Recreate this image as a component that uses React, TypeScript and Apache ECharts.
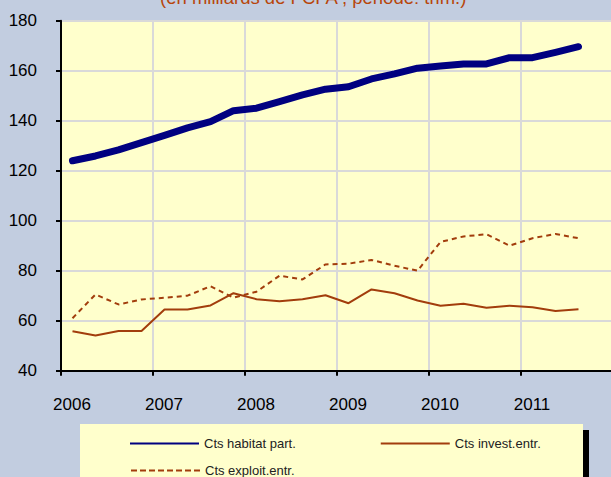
import React, { useEffect, useRef } from "react";
import * as echarts from "echarts";

const TITLE = "(en milliards de FCFA , période: trim.)";
const YEAR_LABELS = ["2006", "2007", "2008", "2009", "2010", "2011"];
const SERIES_NAMES = ["Cts habitat part.", "Cts invest.entr.", "Cts exploit.entr."];
// quarterly values, 2006 Q1 .. 2011 Q3
const habitat = [124, 125.9, 128.3, 131.2, 134.1, 137.1, 139.6, 144, 145, 147.6, 150.3, 152.6, 153.6, 156.7, 158.7, 161, 161.9, 162.7, 162.7, 165.2, 165.2, 167.3, 169.6];
const invest = [55.8, 54.1, 55.9, 55.9, 64.5, 64.5, 66.1, 71, 68.6, 67.8, 68.6, 70.2, 67, 72.5, 71, 68.1, 66, 66.8, 65.2, 66, 65.4, 63.9, 64.6];
const exploit = [61, 70.5, 66.5, 68.5, 69.2, 70, 73.8, 69.2, 71.6, 78, 76.5, 82.5, 82.8, 84.3, 82, 80, 91.5, 93.7, 94.6, 90, 93, 94.7, 93];
const X_TICKS = [0, 4, 8, 12, 16, 20];

const BROWN = "#A23D0C";
const NAVY = "#000080";

const toPoints = (arr: number[]) => arr.map((v, i) => [i + 0.5, v]);

export default function App() {
  const ref = useRef<HTMLDivElement>(null);
  useEffect(() => {
    if (!ref.current) return;
    const chart = echarts.init(ref.current, undefined, { renderer: "svg" });
    const font = "Liberation Sans, Arial, sans-serif";
    chart.setOption({
      animation: false,
      backgroundColor: "#C2CDE0",
      textStyle: { fontFamily: font },
      grid: {
        left: 61,
        top: 20.7,
        right: -2,
        bottom: 106.3,
        show: true,
        backgroundColor: "#FFFFCC",
        borderWidth: 0,
        containLabel: false,
        outerBoundsMode: "none",
      },
      xAxis: {
        type: "value",
        min: 0,
        max: 24,
        interval: 4,
        axisLine: { show: true, lineStyle: { color: "#000", width: 2 } },
        axisTick: { show: true, length: 5, customValues: X_TICKS, lineStyle: { color: "#000", width: 2 } },
        splitLine: { show: true, lineStyle: { color: "#D9D9D9", width: 2 } },
        axisLabel: {
          color: "#000",
          fontSize: 17,
          margin: 25,
          padding: [0, 0, 0, 22],
          customValues: X_TICKS,
          formatter: (v: number) => YEAR_LABELS[Math.round(v / 4)] ?? "",
        },
      },
      yAxis: {
        type: "value",
        min: 40,
        max: 180,
        interval: 20,
        axisLine: { show: true, lineStyle: { color: "#000", width: 2 } },
        axisTick: { show: true, length: 5, lineStyle: { color: "#000", width: 2 } },
        splitLine: { show: true, lineStyle: { color: "#D9D9D9", width: 2 } },
        axisLabel: { color: "#000", fontSize: 17, margin: 24 },
      },
      legend: [
        {
          data: [SERIES_NAMES[0], SERIES_NAMES[1]],
          left: 130,
          top: 437,
          padding: 0,
          itemWidth: 69,
          itemHeight: 10,
          itemGap: 85,
          icon: "path://M0,4 L69,4 L69,6 L0,6 Z",
          textStyle: { fontSize: 13, color: "#222", fontFamily: font },
          selectedMode: false,
        },
        {
          data: [SERIES_NAMES[2]],
          left: 130,
          top: 464,
          padding: 0,
          itemWidth: 69,
          itemHeight: 10,
          itemStyle: { opacity: 0 },
          lineStyle: { width: 2, type: [6, 3] },
          textStyle: { fontSize: 13, color: "#222", fontFamily: font },
          selectedMode: false,
        },
      ],
      graphic: [
        {
          type: "text",
          left: 160,
          top: -12,
          style: { text: TITLE, fontSize: 18.5, fill: "#B8460B", fontFamily: font },
        },
        {
          type: "rect",
          z: -1,
          shape: { x: 86, y: 430, width: 503, height: 60 },
          style: { fill: "#000" },
        },
        {
          type: "rect",
          z: 0,
          shape: { x: 80, y: 424, width: 503, height: 60 },
          style: { fill: "#FFFFCC" },
        },
      ],
      series: [
        {
          name: SERIES_NAMES[0],
          type: "line",
          data: toPoints(habitat),
          symbol: "none",
          itemStyle: { color: NAVY },
          lineStyle: { color: NAVY, width: 7, cap: "round", join: "round" },
          z: 5,
        },
        {
          name: SERIES_NAMES[1],
          type: "line",
          data: toPoints(invest),
          symbol: "none",
          itemStyle: { color: BROWN },
          lineStyle: { color: BROWN, width: 2 },
          z: 4,
        },
        {
          name: SERIES_NAMES[2],
          type: "line",
          data: toPoints(exploit),
          symbol: "none",
          itemStyle: { color: BROWN },
          lineStyle: { color: BROWN, width: 2, type: [5, 4] },
          z: 3,
        },
      ],
    });
    return () => chart.dispose();
  }, []);
  return <div ref={ref} style={{ width: 611, height: 477, position: "fixed", left: 0, top: 0 }} />;
}
